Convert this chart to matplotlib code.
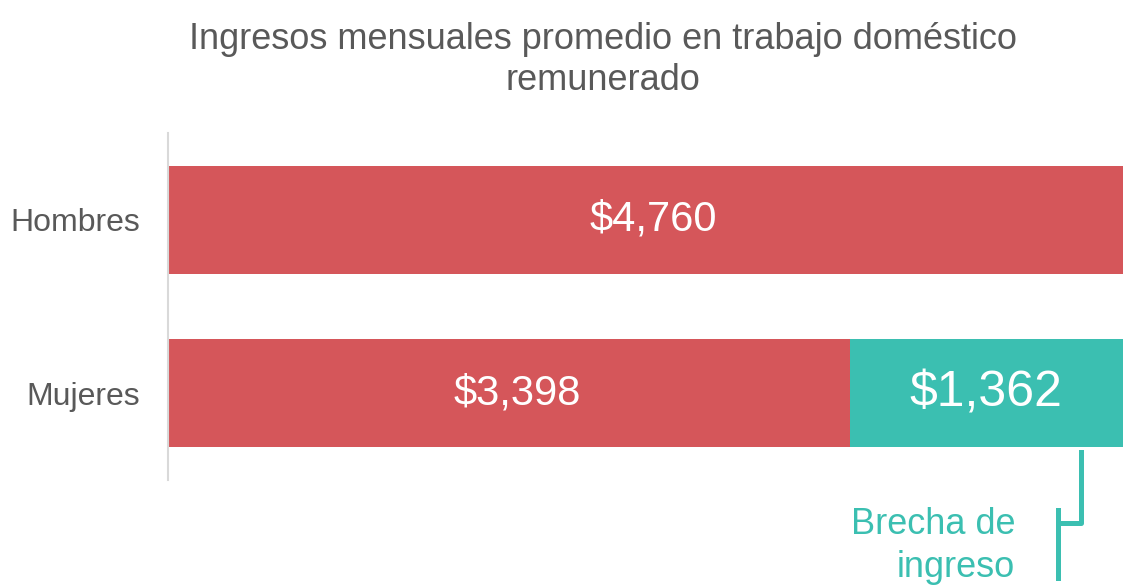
import matplotlib.pyplot as plt

plt.rcParams['font.family'] = ['Liberation Sans', 'DejaVu Sans']

# ingresos mensuales promedio
categorias = ['Mujeres', 'Hombres']
ingreso_base = [3398, 4760]
brecha = [1362, 0]
titulo = 'Ingresos mensuales promedio en trabajo doméstico\nremunerado'

rojo = '#D5565A'
verde = '#3BBFB1'
gris = '#595959'

fig = plt.figure(figsize=(11.23, 5.85), dpi=100)
ax = fig.add_axes([168/1123, 1-480/585, 955/1123, 347/585])

pos = range(len(categorias))
ax.barh(pos, ingreso_base, height=0.62, color=rojo)
ax.barh(pos, brecha, left=ingreso_base, height=0.62, color=verde)

for i, v in enumerate(ingreso_base):
    ax.text(v/2 + 40, i, f'${v:,}', ha='center', va='center', color='white', fontsize=30)
for i, v in enumerate(brecha):
    if v > 0:
        ax.text(ingreso_base[i] + v/2, i, f'${v:,}', ha='center', va='center',
                color='white', fontsize=36)

ax.set_xlim(0, ingreso_base[1])
ax.set_ylim(-0.5, 1.5)
ax.set_yticks(list(pos))
ax.set_yticklabels(categorias, fontsize=23, color=gris)
ax.tick_params(axis='y', length=0, pad=20)
ax.set_xticks([])
for s in ['top', 'right', 'bottom']:
    ax.spines[s].set_visible(False)
ax.spines['left'].set_color('#D9D9D9')
ax.spines['left'].set_linewidth(1.5)

# corchete de la brecha
ax.plot([0.956, 0.956, 0.932], [0.081, -0.124, -0.124], transform=ax.transAxes,
        color=verde, lw=3.6, clip_on=False, solid_joinstyle='round')
ax.plot([0.932, 0.932], [-0.086, -0.282], transform=ax.transAxes,
        color=verde, lw=3.6, clip_on=False)
ax.text(0.887, -0.19, 'Brecha de\ningreso', transform=ax.transAxes, ha='right',
        va='center', color=verde, fontsize=26, linespacing=1.3)

fig.text(603/1123, 1-60/585, titulo, ha='center', va='center', fontsize=26,
         color=gris, linespacing=1.22)

fig.savefig('out.png', dpi=100)
